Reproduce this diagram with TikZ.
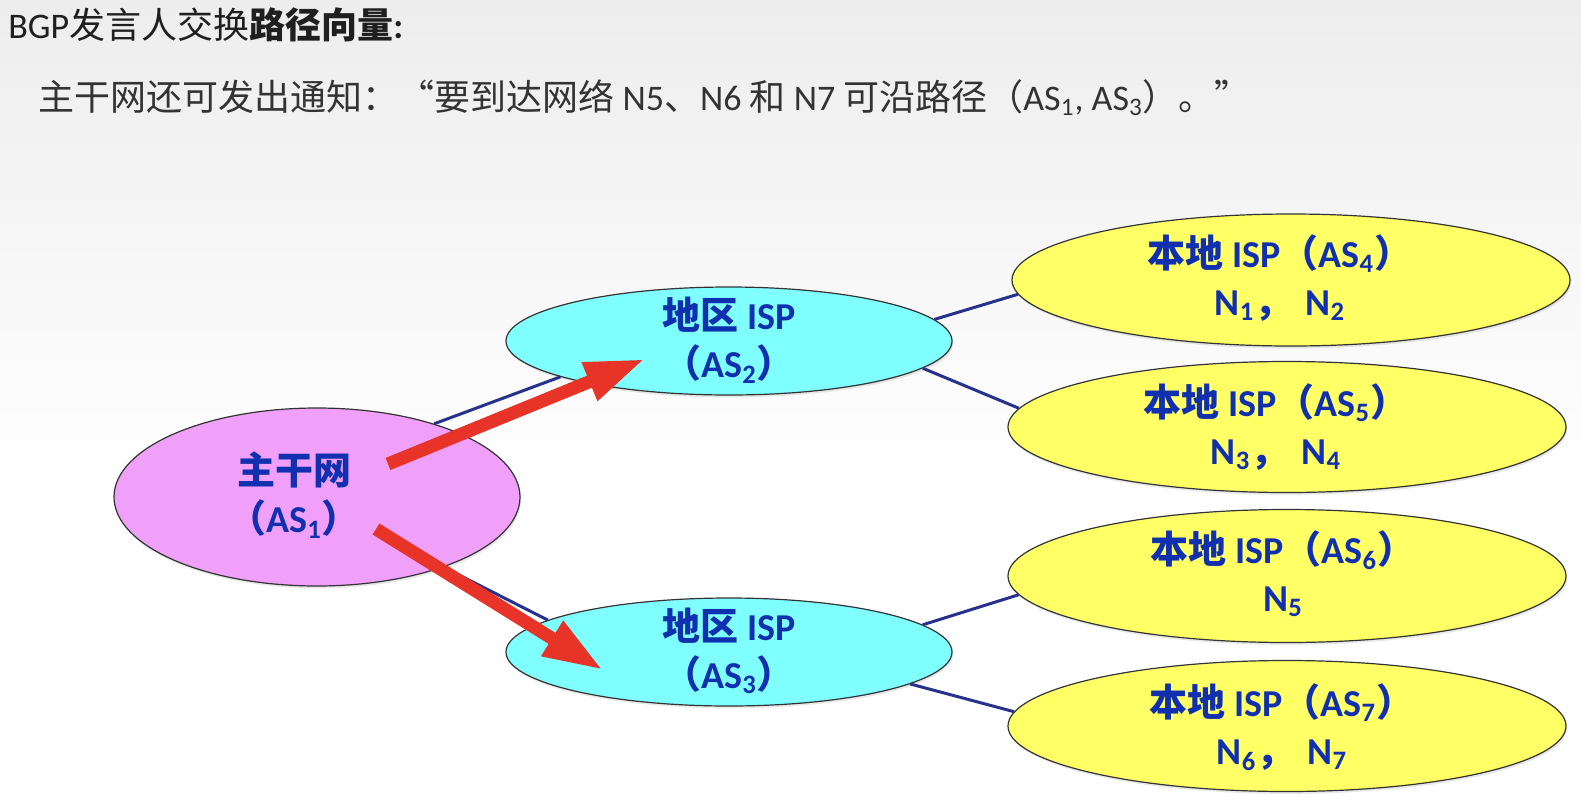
\documentclass[tikz,border=0pt]{standalone}
\usepackage{fontspec}
\setmainfont{Carlito}
\newfontfamily\cjk{Noto Sans CJK SC}
\usetikzlibrary{shapes.geometric,arrows.meta,shadows}
\definecolor{txtblue}{RGB}{16,48,176}
\definecolor{linkblue}{RGB}{40,50,140}
\definecolor{arrred}{RGB}{232,52,40}
\definecolor{pinkfill}{RGB}{240,160,248}
\definecolor{cyanfill}{RGB}{128,255,255}
\definecolor{yelfill}{RGB}{255,255,102}
\tikzset{
  ell/.style={ellipse, draw=black!80, line width=0.6pt, inner sep=0pt,
    drop shadow={opacity=0.18, shadow xshift=0.6pt, shadow yshift=-1.2pt}},
  lbl/.style={text=txtblue, font=\fontsize{19}{24}\selectfont\bfseries, align=center, inner sep=0pt},
  link/.style={draw=linkblue, line width=1.5pt},
  redarrow/.style={draw=arrred, line width=6.5pt, -{Triangle[length=30pt,width=19pt]}},
  headline/.style={anchor=west, inner sep=0pt, font=\fontsize{18}{22}\selectfont}
}
\newcommand\gapcomma{{\cjk ，}\hspace{0.35em}}
\begin{document}
\begin{tikzpicture}[x=0.5pt,y=-0.5pt]
\useasboundingbox (0,0) rectangle (1581,804);
\shade[top color=black!7, bottom color=white] (0,0) rectangle (1581,480);
\fill[white] (0,480) rectangle (1581,804);

\node[headline, text=black!88] (title) at (8,25) {BGP{\cjk 发言人交换\bfseries 路径向量}\textbf{:}};
\node[headline, text=black!80] (note) at (38,98) {{\cjk 主干网还可发出通知：“要到达网络} N5{\cjk 、}N6 {\cjk 和} N7 {\cjk 可沿路径（}AS\textsubscript{1}, AS\textsubscript{3}{\cjk ）。”}};

% ellipses
\node[ell, fill=pinkfill, minimum width=203pt, minimum height=89pt] (AS1) at (317,497) {};
\node[ell, fill=cyanfill, minimum width=223pt, minimum height=54pt] (AS2) at (729,341) {};
\node[ell, fill=cyanfill, minimum width=223pt, minimum height=54pt] (AS3) at (729,652) {};
\node[ell, fill=yelfill, minimum width=279pt, minimum height=66pt] (AS4) at (1291,280) {};
\node[ell, fill=yelfill, minimum width=279pt, minimum height=65.5pt] (AS5) at (1287,427) {};
\node[ell, fill=yelfill, minimum width=279pt, minimum height=66.5pt] (AS6) at (1287,576) {};
\node[ell, fill=yelfill, minimum width=279pt, minimum height=65.5pt] (AS7) at (1287,726) {};

% labels
\node[lbl] (t1) at (294,495) {{\cjk 主干网}\\{\cjk （}AS\textsubscript{1}{\cjk ）}};
\node[lbl] (t2) at (729,340) {{\cjk 地区} ISP\\{\cjk （}AS\textsubscript{2}{\cjk ）}};
\node[lbl] (t3) at (729,651) {{\cjk 地区} ISP\\{\cjk （}AS\textsubscript{3}{\cjk ）}};
\node[lbl] (t4) at (1280,278) {{\cjk 本地} ISP{\cjk （}AS\textsubscript{4}{\cjk ）}\\N\textsubscript{1}\gapcomma N\textsubscript{2}};
\node[lbl] (t5) at (1276,427) {{\cjk 本地} ISP{\cjk （}AS\textsubscript{5}{\cjk ）}\\N\textsubscript{3}\gapcomma N\textsubscript{4}};
\node[lbl] (t6) at (1283,574) {{\cjk 本地} ISP{\cjk （}AS\textsubscript{6}{\cjk ）}\\N\textsubscript{5}};
\node[lbl] (t7) at (1282,727) {{\cjk 本地} ISP{\cjk （}AS\textsubscript{7}{\cjk ）}\\N\textsubscript{6}\gapcomma N\textsubscript{7}};

% links
\draw[link] (AS1.32) -- (AS2.192);
\draw[link] (AS1.-29) -- (AS3.170);
\draw[link] (AS2.6) -- (AS4.183);
\draw[link] (AS2.-8) -- (AS5.176);
\draw[link] (AS3.8) -- (AS6.184);
\draw[link] (AS3.-10) -- (AS7.177);

% red arrows
\coordinate (u0) at (388,464);
\coordinate (u1) at (645,359);
\coordinate (d0) at (376,529);
\coordinate (d1) at (603,670);
\draw[redarrow] (u0) -- (u1);
\draw[redarrow] (d0) -- (d1);
\end{tikzpicture}
\end{document}
